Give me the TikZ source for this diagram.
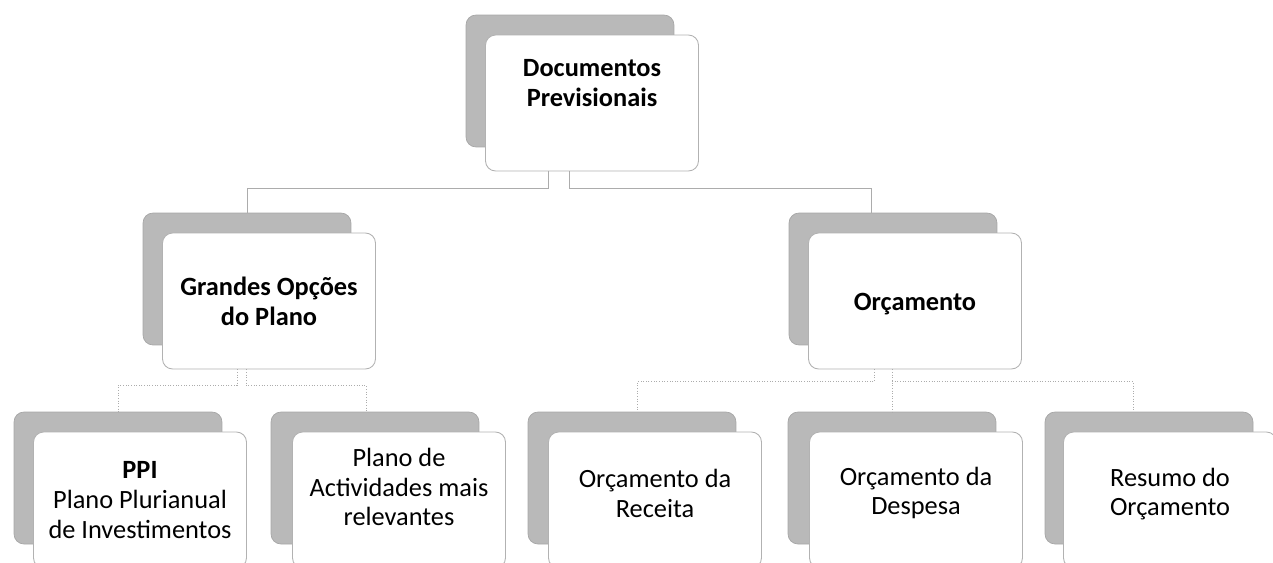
\documentclass[tikz,border=0pt]{standalone}
\usepackage{fontspec}
\setmainfont{Carlito}

\begin{document}
\begin{tikzpicture}[x=0.02cm,y=-0.02cm,
    backbox/.style={fill=gray!55,draw=gray!70,rounded corners=0.2cm,
      minimum width=4.16cm,minimum height=2.64cm,inner sep=0pt},
    frontbox/.style={fill=white,draw=gray!60,line width=0.5pt,rounded corners=0.2cm,
      minimum width=4.26cm,minimum height=2.72cm,inner sep=0pt},
    boxtext/.style={align=center,font=\fontsize{15}{17}\selectfont},
    conn/.style={draw=gray!65,line width=0.5pt}]
  \useasboundingbox (0,0) rectangle (1273,562);
  \clip (0,0) rectangle (1273,562);

  % shadows
  \node[backbox] (top-s) at (570,81) {};
  \node[backbox] (gop-s) at (247,279) {};
  \node[backbox] (orc-s) at (893,279) {};
  \node[backbox] (ppi-s) at (118,478) {};
  \node[backbox] (pam-s) at (375,478) {};
  \node[backbox] (orr-s) at (632,478) {};
  \node[backbox] (ord-s) at (892,478) {};
  \node[backbox] (res-s) at (1149,478) {};

  % boxes
  \node[frontbox] (top) at (592,103) {};
  \node[frontbox] (gop) at (269,301) {};
  \node[frontbox] (orc) at (915,301) {};
  \node[frontbox] (ppi) at (140,500) {};
  \node[frontbox] (pam) at (399,500) {};
  \node[frontbox] (orr) at (655,500) {};
  \node[frontbox] (ord) at (916,500) {};
  \node[frontbox] (res) at (1170,500) {};

  % texts
  \node[boxtext,font=\fontsize{15}{17}\selectfont\bfseries] (top-t) at (592,83) {Documentos\\Previsionais};
  \node[boxtext,font=\fontsize{15}{17}\selectfont\bfseries] (gop-t) at (269,301) {Grandes Opções\\do Plano};
  \node[boxtext,font=\fontsize{15}{17}\selectfont\bfseries] (orc-t) at (915,304) {Orçamento};
  \node[boxtext] (ppi-t) at (140,500) {\textbf{PPI}\\Plano Plurianual\\de Investimentos};
  \node[boxtext] (pam-t) at (399,487) {Plano de\\Actividades mais\\relevantes};
  \node[boxtext] (orr-t) at (655,493) {Orçamento da\\Receita};
  \node[boxtext] (ord-t) at (916,493) {Orçamento da\\Despesa};
  \node[boxtext] (res-t) at (1170,494) {Resumo do\\Orçamento};

  % connectors
  \draw[conn] ([xshift=-0.87cm]top.south) -- ++(0,17) -| (gop-s.north);
  \draw[conn] ([xshift=-0.45cm]top.south) -- ++(0,17) -| ([xshift=-0.43cm]orc-s.north);
  \draw[conn,densely dotted] ([xshift=-0.64cm]gop.south) -- ++(0,16) -| (ppi-s.north);
  \draw[conn,densely dotted] ([xshift=-0.46cm]gop.south) -- ++(0,16) -| ([xshift=-0.18cm]pam-s.north);
  \draw[conn,densely dotted] ([xshift=-0.81cm]orc.south) -- ++(0,12) -| ([xshift=0.11cm]orr-s.north);
  \draw[conn,densely dotted] (ord-s.north |- orc.south) -- (ord-s.north);
  \draw[conn,densely dotted] ([yshift=-0.24cm]ord-s.north |- orc.south) -| ([xshift=-0.32cm]res-s.north);
\end{tikzpicture}
\end{document}
